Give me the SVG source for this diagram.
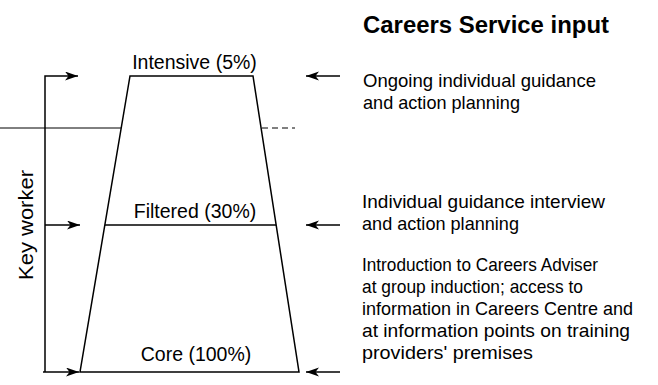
<svg xmlns="http://www.w3.org/2000/svg" width="658" height="385" viewBox="0 0 658 385">
<style>
  .ln { stroke: #000; stroke-width: 1.5; fill: none; }
  .thin { stroke: #000; stroke-width: 1; fill: none; }
  .lbl { font-family: "Liberation Sans", Arial, sans-serif; font-size: 19.5px; fill: #000; }
  .txt { font-family: "Liberation Sans", Arial, sans-serif; font-size: 19px; fill: #000; }
  .ttl { font-family: "Liberation Sans", Arial, sans-serif; font-size: 23px; font-weight: bold; fill: #000; }
</style>
<defs>
  <marker id="arr" markerUnits="userSpaceOnUse" markerWidth="14" markerHeight="10" refX="13" refY="4.5" orient="auto">
    <path d="M0,0 L13,4.5 L0,9 L3.5,4.5 z" fill="#000"/>
  </marker>
</defs>
<rect width="658" height="385" fill="#fff"/>

<g id="pyramid">
  <polygon class="ln" points="130,76 253,76 299,372 80,372"/>
  <line class="ln" x1="105" y1="225" x2="276" y2="225"/>
</g>

<g id="tier-intensive"><text class="lbl" x="194.5" y="69" text-anchor="middle">Intensive (5%)</text></g>
<g id="tier-filtered"><text class="lbl" x="195" y="218" text-anchor="middle">Filtered (30%)</text></g>
<g id="tier-core"><text class="lbl" x="196" y="361" text-anchor="middle">Core (100%)</text></g>

<g id="key-worker">
  <text class="lbl" font-size="21px" transform="translate(33,225) rotate(-90)" text-anchor="middle" textLength="110" lengthAdjust="spacingAndGlyphs">Key worker</text>
</g>

<g id="careers-title"><text class="ttl" x="363" y="33" textLength="246" lengthAdjust="spacingAndGlyphs">Careers Service input</text></g>

<g id="input-ongoing">
  <text class="txt" x="363" y="87" textLength="233" lengthAdjust="spacingAndGlyphs">Ongoing individual guidance</text>
  <text class="txt" x="363" y="109" textLength="157" lengthAdjust="spacingAndGlyphs">and action planning</text>
</g>
<g id="input-individual">
  <text class="txt" x="362" y="208" textLength="243" lengthAdjust="spacingAndGlyphs">Individual guidance interview</text>
  <text class="txt" x="362" y="230" textLength="157" lengthAdjust="spacingAndGlyphs">and action planning</text>
</g>
<g id="input-intro">
  <text class="txt" x="362" y="271" textLength="236" lengthAdjust="spacingAndGlyphs">Introduction to Careers Adviser</text>
  <text class="txt" x="362" y="293" textLength="221" lengthAdjust="spacingAndGlyphs">at group induction; access to</text>
  <text class="txt" x="362" y="315" textLength="271" lengthAdjust="spacingAndGlyphs">information in Careers Centre and</text>
  <text class="txt" x="362" y="337" textLength="268" lengthAdjust="spacingAndGlyphs">at information points on training</text>
  <text class="txt" x="362" y="359" textLength="171" lengthAdjust="spacingAndGlyphs">providers' premises</text>
</g>

<g id="connectors">
  <line class="thin" x1="0" y1="128" x2="121" y2="128"/>
  <line class="thin" x1="262" y1="128" x2="295" y2="128" stroke-dasharray="6,4"/>
  <polyline class="ln" points="45,372 45,76 78,76" marker-end="url(#arr)"/>
  <line class="ln" x1="45" y1="225" x2="80" y2="225" marker-end="url(#arr)"/>
  <line class="ln" x1="43" y1="372" x2="79" y2="372" marker-end="url(#arr)"/>
  <line class="ln" x1="340" y1="76" x2="306" y2="76" marker-end="url(#arr)"/>
  <line class="ln" x1="340" y1="225" x2="306" y2="225" marker-end="url(#arr)"/>
  <line class="ln" x1="340" y1="372" x2="306" y2="372" marker-end="url(#arr)"/>
</g>
</svg>
